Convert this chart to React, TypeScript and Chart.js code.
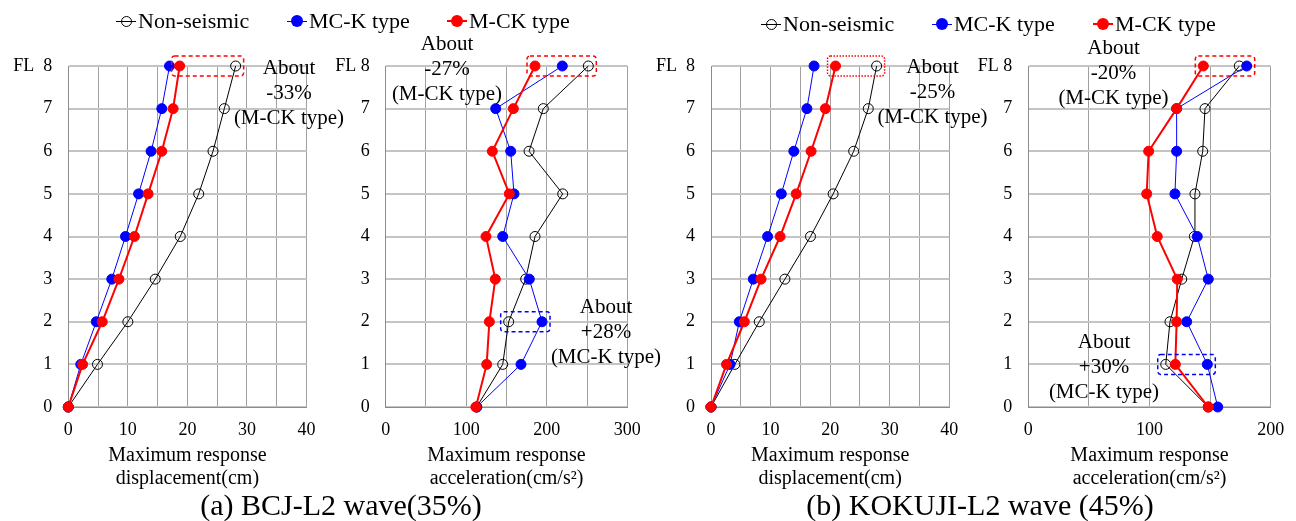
import React, { useEffect, useRef } from "react";
import { Chart, registerables } from "chart.js";

Chart.register(...registerables);

// ---------- DATA ----------
const floors = [0, 1, 2, 3, 4, 5, 6, 7, 8];
const seriesNames = ["Non-seismic", "MC-K type", "M-CK type"];

// (a) BCJ-L2 wave (35%)
const dispA_non = [0, 4.9, 10.0, 14.6, 18.8, 21.9, 24.3, 26.2, 28.1];
const dispA_mcK = [0, 2.1, 4.7, 7.3, 9.6, 11.8, 13.9, 15.7, 17.0];
const dispA_mCK = [0, 2.4, 5.7, 8.5, 11.1, 13.4, 15.7, 17.6, 18.7];
const accA_non = [113, 145.3, 152.7, 173.8, 185.4, 219.8, 178, 195.7, 251.6];
const accA_mcK = [113, 168, 194.1, 178.3, 145.3, 159.3, 155.2, 136.6, 219.3];
const accA_mCK = [112, 125.4, 128.7, 136.1, 124.5, 153.5, 132.4, 158.5, 185.4];

// (b) KOKUJI-L2 wave (45%)
const dispB_non = [0, 4.0, 8.1, 12.4, 16.7, 20.5, 23.95, 26.4, 27.8];
const dispB_mcK = [0, 3.2, 4.75, 7.1, 9.5, 11.8, 13.9, 16.1, 17.3];
const dispB_mCK = [0, 2.6, 5.6, 8.4, 11.6, 14.3, 16.8, 19.2, 20.9];
const accB_non = [148.5, 113.4, 116.9, 126.6, 137, 137.5, 143.9, 145.8, 174.1];
const accB_mcK = [156.3, 147.7, 130.7, 148.5, 139.4, 121, 122.4, 122.4, 180.2];
const accB_mCK = [148.5, 121.3, 122.4, 122.9, 106.4, 97.7, 99.3, 122.4, 144.4];

// tick labels
const dispTickLabels = [0, 10, 20, 30, 40];
const accATickLabels = [0, 100, 200, 300];
const accBTickLabels = [0, 100, 200];
const dispTitle = ["Maximum response", "displacement(cm)"];
const accTitle = ["Maximum response", "acceleration(cm/s\u00B2)"];
const captionA = "(a) BCJ-L2 wave(35%)";
const captionB = "(b) KOKUJI-L2 wave (45%)";

// ---------- STYLE ----------
const FONT = '"Liberation Serif", "Times New Roman", serif';
const BLACK = "#000000";
const BLUE = "#0000ff";
const RED = "#ff0000";

type Box = { floor: number; series: number[]; color: string; dash: number[] };

type PanelCfg = {
  left: number;
  width: number;
  yWidth: number;
  padRight: number;
  xMax: number;
  xStep: number;
  xLabels: number[];
  xTitle: string[];
  fl: string;
  data: number[][];
  boxes: Box[];
};

const panels: PanelCfg[] = [
  {
    left: 0, width: 320, yWidth: 68.3, padRight: 13.5,
    xMax: 40, xStep: 5, xLabels: dispTickLabels, xTitle: dispTitle, fl: "FL  8",
    data: [dispA_non, dispA_mcK, dispA_mCK],
    boxes: [{ floor: 8, series: [0, 2], color: RED, dash: [4, 3] }],
  },
  {
    left: 320, width: 330, yWidth: 65.7, padRight: 22.7,
    xMax: 300, xStep: 50, xLabels: accATickLabels, xTitle: accTitle, fl: "FL 8",
    data: [accA_non, accA_mcK, accA_mCK],
    boxes: [
      { floor: 8, series: [0, 1, 2], color: RED, dash: [4, 3] },
      { floor: 2, series: [0, 1], color: BLUE, dash: [4, 3] },
    ],
  },
  {
    left: 640, width: 320, yWidth: 71, padRight: 10.7,
    xMax: 40, xStep: 5, xLabels: dispTickLabels, xTitle: dispTitle, fl: "FL  8",
    data: [dispB_non, dispB_mcK, dispB_mCK],
    boxes: [{ floor: 8, series: [0, 2], color: RED, dash: [1.5, 1.5] }],
  },
  {
    left: 960, width: 336, yWidth: 68.3, padRight: 25.3,
    xMax: 200, xStep: 50, xLabels: accBTickLabels, xTitle: accTitle, fl: "FL 8",
    data: [accB_non, accB_mcK, accB_mCK],
    boxes: [
      { floor: 8, series: [0, 1, 2], color: RED, dash: [4, 3] },
      { floor: 1, series: [0, 1, 2], color: BLUE, dash: [4, 3] },
    ],
  },
];

const boxPlugin = {
  id: "boxes",
  afterDatasetsDraw(chart: any, _args: any, opts: any) {
    const boxes: Box[] = opts.items || [];
    const data: number[][] = opts.data || [];
    const { ctx, scales } = chart;
    boxes.forEach((b) => {
      const xs = b.series.map((s) => scales.x.getPixelForValue(data[s][b.floor]));
      const y = scales.y.getPixelForValue(b.floor);
      const x0 = Math.min(...xs) - 8;
      const x1 = Math.max(...xs) + 8;
      const y0 = y - 10;
      const y1 = y + 10;
      ctx.save();
      ctx.strokeStyle = b.color;
      ctx.lineWidth = 1.5;
      ctx.setLineDash(b.dash);
      ctx.beginPath();
      if (ctx.roundRect) ctx.roundRect(x0, y0, x1 - x0, y1 - y0, 3);
      else ctx.rect(x0, y0, x1 - x0, y1 - y0);
      ctx.stroke();
      ctx.restore();
    });
  },
};

function Panel({ cfg }: { cfg: PanelCfg }) {
  const ref = useRef<HTMLCanvasElement | null>(null);
  useEffect(() => {
    if (!ref.current) return;
    const mk = (vals: number[]) => vals.map((v, i) => ({ x: v, y: floors[i] }));
    const chart = new Chart(ref.current, {
      type: "scatter",
      data: {
        datasets: [
          {
            label: seriesNames[0],
            data: mk(cfg.data[0]),
            showLine: true,
            borderColor: BLACK,
            borderWidth: 1,
            backgroundColor: "rgba(0,0,0,0)",
            pointBackgroundColor: "rgba(0,0,0,0)",
            pointBorderColor: BLACK,
            pointBorderWidth: 1,
            pointRadius: 5,
            order: 3,
            clip: false,
          },
          {
            label: seriesNames[1],
            data: mk(cfg.data[1]),
            showLine: true,
            borderColor: BLUE,
            borderWidth: 1,
            backgroundColor: BLUE,
            pointBackgroundColor: BLUE,
            pointBorderColor: BLUE,
            pointBorderWidth: 1,
            pointRadius: 5,
            order: 2,
            clip: false,
          },
          {
            label: seriesNames[2],
            data: mk(cfg.data[2]),
            showLine: true,
            borderColor: RED,
            borderWidth: 2,
            backgroundColor: RED,
            pointBackgroundColor: RED,
            pointBorderColor: RED,
            pointBorderWidth: 1,
            pointRadius: 5,
            order: 1,
            clip: false,
          },
        ],
      },
      options: {
        responsive: false,
        maintainAspectRatio: false,
        animation: false,
        events: [],
        layout: { padding: { left: 0, right: cfg.padRight, top: 66, bottom: 31 } },
        plugins: {
          legend: { display: false },
          tooltip: { enabled: false },
          title: { display: false },
          boxes: { items: cfg.boxes, data: cfg.data },
        } as any,
        scales: {
          x: {
            type: "linear",
            min: 0,
            max: cfg.xMax,
            ticks: {
              stepSize: cfg.xStep,
              autoSkip: false,
              maxRotation: 0,
              padding: 12,
              color: "#000",
              font: { family: FONT, size: 18 },
              callback: (v: any) => (cfg.xLabels.includes(Number(v)) ? String(v) : ""),
            },
            grid: { color: "#a0a0a0", lineWidth: 1, drawTicks: false },
            border: { color: "#8c8c8c", width: 1 },
            title: {
              display: true,
              text: cfg.xTitle,
              color: "#000",
              font: { family: FONT, size: 20, lineHeight: 1.15 },
              padding: { top: 0, bottom: 0 },
            },
            afterFit: (s: any) => {
              s.height = 83;
              s.paddingLeft = 0;
              s.paddingRight = 0;
            },
          },
          y: {
            type: "linear",
            min: 0,
            max: 8,
            ticks: {
              stepSize: 1,
              padding: 16,
              color: "#000",
              font: { family: FONT, size: 18 },
              callback: (v: any) => (Number(v) === 8 ? cfg.fl : String(v)),
            },
            grid: { color: "#c4c4c4", lineWidth: 2, drawTicks: false },
            border: { color: "#8c8c8c", width: 1 },
            afterFit: (s: any) => {
              s.width = cfg.yWidth;
              s.paddingTop = 0;
              s.paddingBottom = 0;
            },
          },
        },
      } as any,
      plugins: [boxPlugin],
    });
    return () => chart.destroy();
  }, [cfg]);
  return (
    <canvas
      ref={ref}
      width={cfg.width}
      height={521}
      style={{ position: "absolute", left: cfg.left, top: 0, width: cfg.width, height: 521 }}
    />
  );
}

function LegendItem({ left, top, color, hollow, lw, text }: any) {
  return (
    <div style={{ position: "absolute", left, top, height: 25, display: "flex", alignItems: "center" }}>
      <div style={{ position: "relative", width: 20, height: 25 }}>
        <div style={{ position: "absolute", left: 0, width: 20, top: 13.5 - lw / 2, height: lw, background: color }} />
        <div
          style={{
            position: "absolute",
            left: hollow ? 5 : 4,
            top: hollow ? 8.5 : 7.5,
            width: hollow ? 9 : 12,
            height: hollow ? 9 : 12,
            borderRadius: "50%",
            border: hollow ? `1px solid ${color}` : "none",
            background: hollow ? "transparent" : color,
          }}
        />
      </div>
      <span style={{ marginLeft: 2, fontFamily: FONT, fontSize: 22, lineHeight: "25px", color: "#000", whiteSpace: "nowrap" }}>
        {text}
      </span>
    </div>
  );
}

function Note({ cx, top, lines }: { cx: number; top: number; lines: string[] }) {
  return (
    <div
      style={{
        position: "absolute",
        left: cx - 100,
        width: 200,
        top,
        textAlign: "center",
        fontFamily: FONT,
        fontSize: 21,
        lineHeight: "25px",
        color: "#000",
        whiteSpace: "nowrap",
      }}
    >
      {lines.map((l, i) => (
        <div key={i}>{l}</div>
      ))}
    </div>
  );
}

const captionStyle: React.CSSProperties = {
  position: "absolute",
  width: 400,
  top: 488,
  textAlign: "center",
  fontFamily: FONT,
  fontSize: 30,
  lineHeight: "34px",
  whiteSpace: "nowrap",
  color: "#000",
};

export default function App() {
  return (
    <div style={{ position: "fixed", left: 0, top: 0, width: 1296, height: 521, background: "#fff", overflow: "hidden" }}>
      {panels.map((p, i) => (
        <Panel key={i} cfg={p} />
      ))}
      <LegendItem left={116} top={7.5} color={BLACK} hollow lw={1} text={seriesNames[0]} />
      <LegendItem left={287} top={7.5} color={BLUE} lw={1} text={seriesNames[1]} />
      <LegendItem left={447} top={7.5} color={RED} lw={2} text={seriesNames[2]} />
      <LegendItem left={761} top={10.5} color={BLACK} hollow lw={1} text={seriesNames[0]} />
      <LegendItem left={932} top={10.5} color={BLUE} lw={1} text={seriesNames[1]} />
      <LegendItem left={1093} top={10.5} color={RED} lw={2} text={seriesNames[2]} />

      <Note cx={289} top={54.5} lines={["About", "-33%", "(M-CK type)"]} />
      <Note cx={447} top={30.5} lines={["About", "-27%", "(M-CK type)"]} />
      <Note cx={606} top={293.5} lines={["About", "+28%", "(MC-K type)"]} />
      <Note cx={932.5} top={53.5} lines={["About", "-25%", "(M-CK type)"]} />
      <Note cx={1113.5} top={34.5} lines={["About", "-20%", "(M-CK type)"]} />
      <Note cx={1104} top={328.5} lines={["About", "+30%", "(MC-K type)"]} />

      <div style={{ ...captionStyle, left: 141 }}>{captionA}</div>
      <div style={{ ...captionStyle, left: 780 }}>{captionB}</div>
    </div>
  );
}
